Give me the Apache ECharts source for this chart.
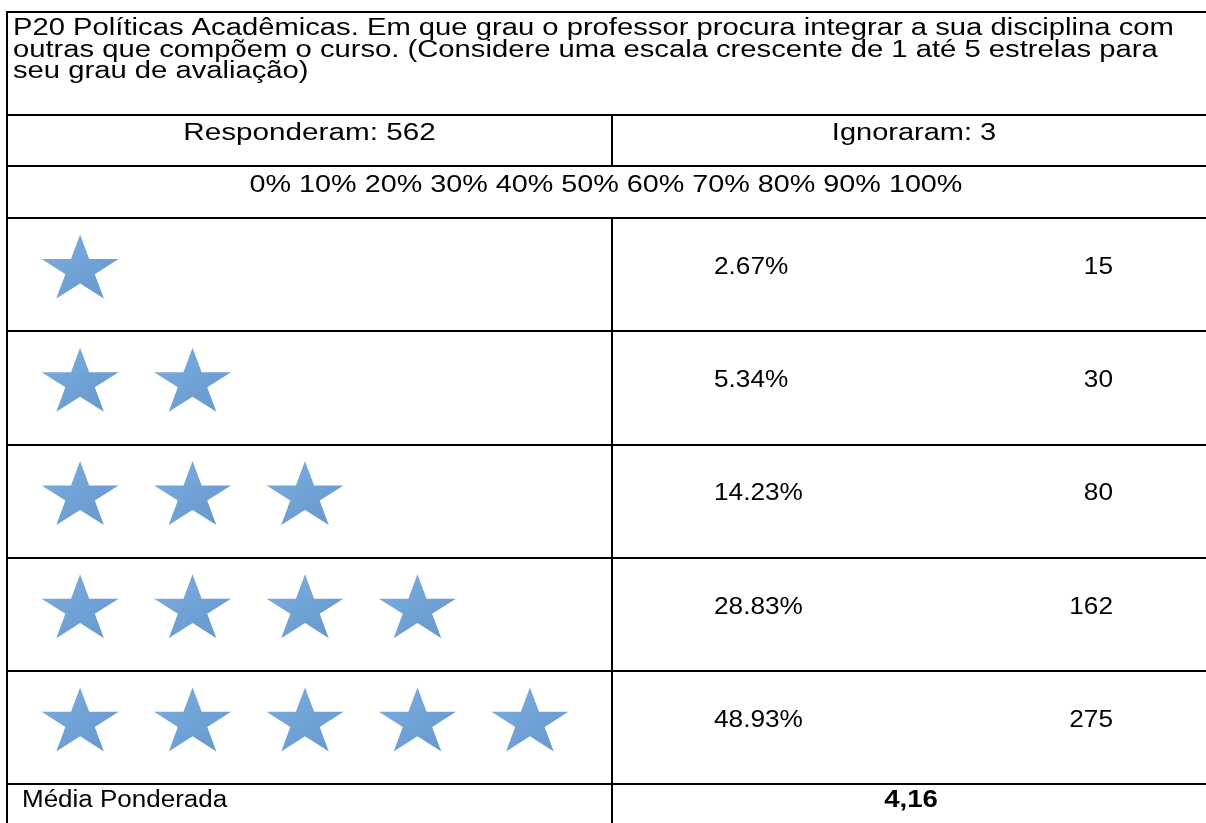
<!DOCTYPE html>
<html>
<head>
<meta charset="utf-8">
<title>P20 Políticas Acadêmicas</title>
<script src="https://cdn.jsdelivr.net/npm/echarts@6/dist/echarts.min.js"></script>
<style>
  html, body { margin: 0; padding: 0; background: #fff; }
  #chart { width: 1206px; height: 823px; }
</style>
</head>
<body>
<div id="chart"></div>
<script>
const titleLines = [
  'P20 Políticas Acadêmicas. Em que grau o professor procura integrar a sua disciplina com',
  'outras que compõem o curso. (Considere uma escala crescente de 1 até 5 estrelas para',
  'seu grau de avaliação)'
]
const ratings = ['1 estrela', '2 estrelas', '3 estrelas', '4 estrelas', '5 estrelas']
const starCounts = [1, 2, 3, 4, 5]
const percentages = [2.67, 5.34, 14.23, 28.83, 48.93]
const counts = [15, 30, 80, 162, 275]
const responded = 562
const ignored = 3
const weightedMean = 4.16
const pctTicks = ['0%', '10%', '20%', '30%', '40%', '50%', '60%', '70%', '80%', '90%', '100%']

const FONT = '"Liberation Sans", Arial, Helvetica, sans-serif'
const LINE = '#000'

// estrela de 5 pontas (caminho do símbolo)
const starPath = (() => {
  const pts = []
  for (let i = 0; i < 10; i++) {
    const r = i % 2 === 0 ? 50 : 19.1
    const a = -Math.PI / 2 + i * Math.PI / 5
    pts.push((50 + r * Math.cos(a)).toFixed(2) + ',' + (50 + r * Math.sin(a)).toFixed(2))
  }
  return 'path://M' + pts.join('L') + 'Z'
})()

const starData = []
starCounts.forEach((n, row) => {
  for (let k = 1; k <= n; k++) starData.push([k, row])
})

const rowData = ratings.map((r, i) => [0, i, percentages[i], counts[i]])

const txt = (text, x, y, align, sx, extra) => ({
  type: 'text',
  x, y,
  scaleX: sx,
  silent: true,
  style: Object.assign({
    text,
    fontSize: 23,
    fontFamily: FONT,
    fill: '#000',
    align, textAlign: align,
    verticalAlign: 'middle', textVerticalAlign: 'middle'
  }, extra || {})
})
const hline = (y, x1, x2) => ({
  type: 'line', silent: true,
  shape: { x1, y1: y, x2, y2: y },
  style: { stroke: LINE, lineWidth: 2 }
})
const vline = (x, y1, y2) => ({
  type: 'line', silent: true,
  shape: { x1: x, y1, x2: x, y2 },
  style: { stroke: LINE, lineWidth: 2 }
})

const hiddenCatY = (gridIndex) => ({
  type: 'category',
  gridIndex,
  inverse: true,
  data: ratings,
  axisLine: { show: false },
  axisTick: { show: false },
  axisLabel: { show: false },
  splitLine: { show: true, interval: 0, lineStyle: { color: LINE, width: 2 } }
})

const myChart = echarts.init(document.getElementById('chart'))

const option = {
  backgroundColor: '#fff',
  animation: false,
  grid: [
    { left: 7, top: 218, width: 605, height: 566 },
    { left: 612, top: 218, right: 0, height: 566 }
  ],
  xAxis: [
    { type: 'value', gridIndex: 0, min: 0.35, max: 5.73, show: false },
    { type: 'category', gridIndex: 1, data: ['Porcentagem', 'Respostas'], show: false }
  ],
  yAxis: [hiddenCatY(0), hiddenCatY(1)],
  series: [
    {
      type: 'scatter',
      xAxisIndex: 0,
      yAxisIndex: 0,
      data: starData,
      symbol: starPath,
      symbolSize: [77, 64],
      symbolOffset: [0, -8],
      itemStyle: {
        color: new echarts.graphic.LinearGradient(0, 0, 1, 1, [
          { offset: 0, color: '#5b9ad9' },
          { offset: 1, color: '#3f7cc0' }
        ])
      },
      silent: true
    },
    {
      type: 'custom',
      xAxisIndex: 1,
      yAxisIndex: 1,
      data: rowData,
      encode: { x: 0, y: 1 },
      silent: true,
      renderItem: (params, api) => {
        const row = api.value(1)
        const p = api.coord([0, row])
        const c = api.coord([1, row])
        return {
          type: 'group',
          children: [
            txt(api.value(2).toFixed(2) + '%', p[0] - 46.5, p[1] - 7, 'left', 1.14),
            txt(String(api.value(3)), c[0] + 55.5, c[1] - 7, 'right', 1.14)
          ]
        }
      }
    }
  ],
  graphic: {
    elements: [
      // bordas da tabela
      hline(12, 7, 1206),
      hline(115, 7, 1206),
      hline(166, 7, 1206),
      hline(218, 7, 1206),
      hline(784, 7, 1206),
      vline(7, 11, 823),
      vline(612, 115, 166),
      vline(612, 218, 823),
      // textos do cabeçalho
      ...titleLines.map((t, i) => txt(t, 13, 28.5 + i * 21.7, 'left', 1.27)),
      txt('Responderam: ' + responded, 309.5, 133.5, 'center', 1.29),
      txt('Ignoraram: ' + ignored, 914, 133.5, 'center', 1.26),
      txt(pctTicks.join(' '), 606, 185.5, 'center', 1.25),
      txt('Média Ponderada', 22, 801, 'left', 1.13),
      txt(weightedMean.toFixed(2).replace('.', ','), 911, 801, 'center', 1.2, { fontWeight: 'bold' })
    ]
  }
}

myChart.setOption(option)
window.addEventListener('resize', () => myChart.resize())
</script>
</body>
</html>
